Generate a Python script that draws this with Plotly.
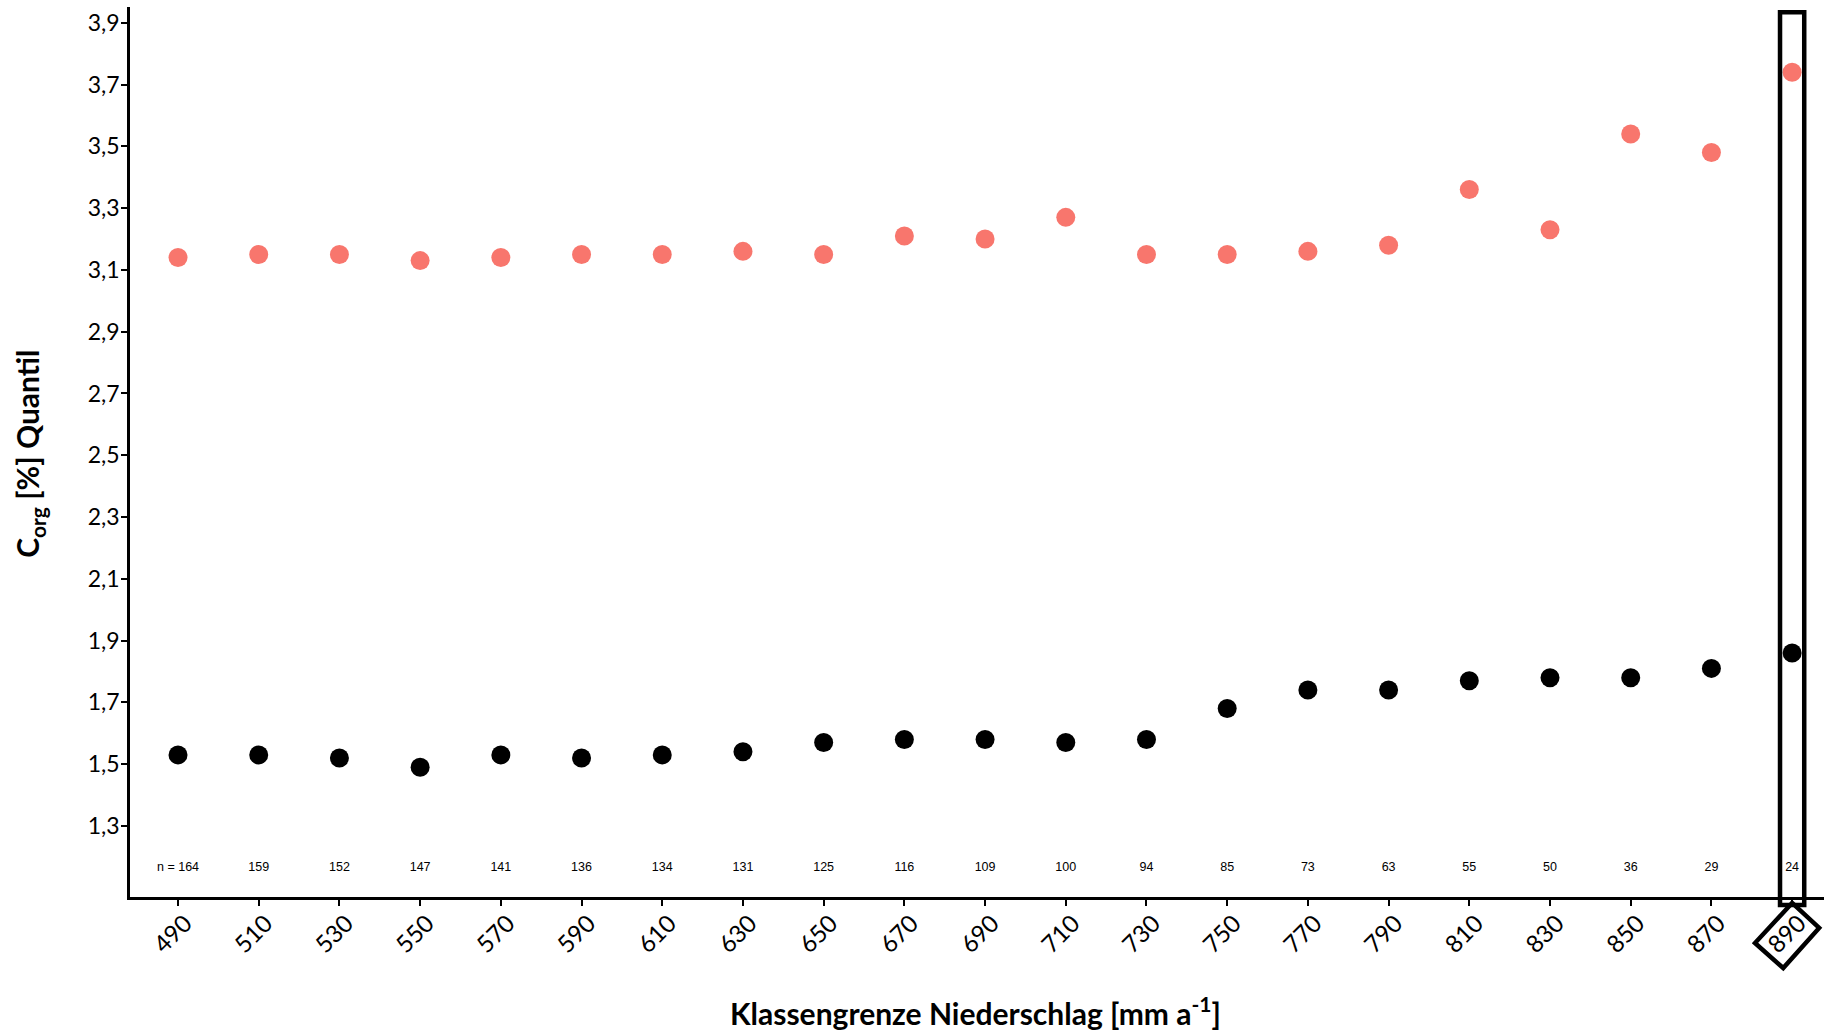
import plotly.graph_objects as go

klassen = [490, 510, 530, 550, 570, 590, 610, 630, 650, 670, 690, 710, 730, 750, 770, 790, 810, 830, 850, 870, 890]
q_oben = [3.14, 3.15, 3.15, 3.13, 3.14, 3.15, 3.15, 3.16, 3.15, 3.21, 3.20, 3.27, 3.15, 3.15, 3.16, 3.18, 3.36, 3.23, 3.54, 3.48, 3.74]
q_unten = [1.53, 1.53, 1.52, 1.49, 1.53, 1.52, 1.53, 1.54, 1.57, 1.58, 1.58, 1.57, 1.58, 1.68, 1.74, 1.74, 1.77, 1.78, 1.78, 1.81, 1.86]
n_werte = [164, 159, 152, 147, 141, 136, 134, 131, 125, 116, 109, 100, 94, 85, 73, 63, 55, 50, 36, 29, 24]
y_ticks = [1.3, 1.5, 1.7, 1.9, 2.1, 2.3, 2.5, 2.7, 2.9, 3.1, 3.3, 3.5, 3.7, 3.9]
n_label_y = 1.164
highlight = 890

fig = go.Figure()
fig.add_trace(go.Scatter(x=klassen, y=q_oben, mode="markers",
                         marker=dict(color="#F8766D", size=19, line=dict(width=0)),
                         showlegend=False))
fig.add_trace(go.Scatter(x=klassen, y=q_unten, mode="markers",
                         marker=dict(color="black", size=19, line=dict(width=0)),
                         showlegend=False))
n_text = ["n = %d" % n_werte[0]] + [str(v) for v in n_werte[1:]]
fig.add_trace(go.Scatter(x=klassen, y=[n_label_y] * len(klassen), mode="text",
                         text=n_text, textposition="middle center",
                         textfont=dict(family="Liberation Sans, Arial", size=12.5, color="black"),
                         showlegend=False))

# highlight rectangle around last class
fig.add_shape(type="rect", xref="x", yref="paper",
              x0=highlight - 3.0, x1=highlight + 3.0, y0=-0.009, y1=0.994,
              line=dict(color="black", width=4.5), fillcolor="rgba(0,0,0,0)")
# rotated box around the tick label
fig.add_shape(type="path", xref="x", yref="paper",
              path="M %f,%f L %f,%f L %f,%f L %f,%f Z" % (
                  highlight, -0.0067, highlight + 6.7, -0.0348,
                  highlight - 2.2, -0.0798, highlight - 9.2, -0.0517),
              line=dict(color="black", width=4.5), fillcolor="rgba(0,0,0,0)")

title_font = dict(family="Lato, Carlito, Calibri, sans-serif", size=30, color="black")
fig.add_annotation(text="<b>Klassengrenze Niederschlag [mm a<sup>-1</sup>]</b>",
                   xref="paper", yref="paper", x=0.499, y=-0.128,
                   xanchor="center", yanchor="middle", showarrow=False, font=title_font)
fig.add_annotation(text="<b>C<sub>org</sub> [%] Quantil</b>",
                   xref="paper", yref="paper", x=-0.0596, y=0.498, textangle=-90,
                   xanchor="center", yanchor="middle", showarrow=False, font=title_font)

fig.update_layout(
    width=1827, height=1033,
    margin=dict(l=130, r=3, t=7, b=136, autoexpand=False),
    plot_bgcolor="white", paper_bgcolor="white",
    separators=",.",
    xaxis=dict(range=[478.1, 897.9], tickvals=klassen, ticktext=[str(k) for k in klassen],
               tickangle=-45, tickfont=dict(family="Lato, Carlito, Calibri, sans-serif", size=24, color="black"),
               ticklabelstandoff=-6, ticklabelshift=7,
               showgrid=False, zeroline=False,
               showline=True, linecolor="black", linewidth=2.6, automargin=False,
               ticks="outside", ticklen=6, tickwidth=2, tickcolor="black"),
    yaxis=dict(range=[1.070, 3.951], tickvals=y_ticks, tickformat=".1f",
               tickfont=dict(family="Lato, Carlito, Calibri, sans-serif", size=23, color="black"),
               ticklabelstandoff=-3,
               showgrid=False, zeroline=False,
               showline=True, linecolor="black", linewidth=2.6, automargin=False,
               ticks="outside", ticklen=6, tickwidth=2, tickcolor="black"),
)

fig.write_html("out.html", config={"displayModeBar": False},
               post_script="document.body.style.margin='0';document.body.style.overflow='hidden';")
